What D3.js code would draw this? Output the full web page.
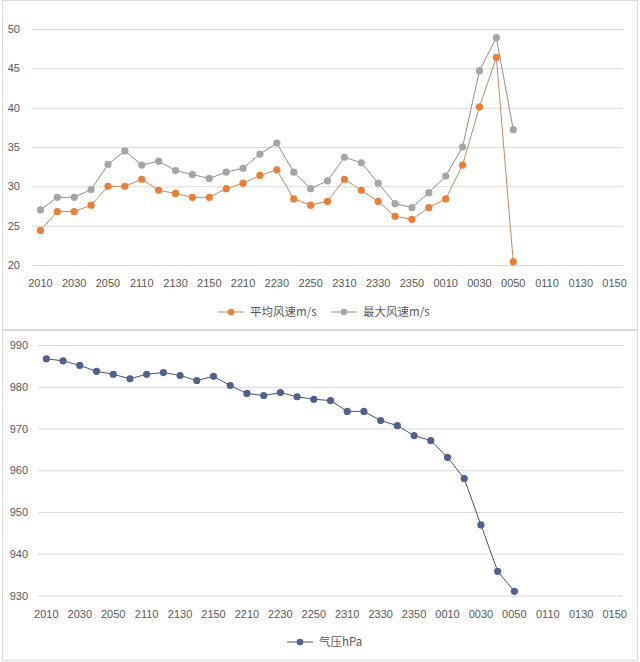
<!DOCTYPE html>
<html><head><meta charset="utf-8">
<script src="https://cdn.jsdelivr.net/npm/d3@7"></script>
<style>
html,body{margin:0;padding:0;background:#fff;}
svg{display:block;font-family:"Noto Sans CJK SC","Noto Sans",sans-serif;}
</style></head>
<body><svg id="c" width="640" height="662"></svg>
<script>
const times = ["2010","2020","2030","2040","2050","2100","2110","2120","2130","2140","2150","2200","2210","2220","2230","2240","2250","2300","2310","2320","2330","2340","2350","0000","0010","0020","0030","0040","0050","0100","0110","0120","0130","0140","0150"];
const avgWind = [24.4,26.8,26.8,27.6,30.0,30.0,30.9,29.5,29.1,28.6,28.6,29.7,30.4,31.4,32.1,28.4,27.6,28.1,30.9,29.5,28.1,26.2,25.8,27.3,28.4,32.7,40.1,46.4,20.4];
const maxWind = [27.0,28.6,28.6,29.6,32.8,34.5,32.7,33.2,32.0,31.5,31.0,31.8,32.3,34.1,35.5,31.8,29.7,30.7,33.7,33.0,30.4,27.8,27.3,29.2,31.3,35.0,44.7,48.9,37.2];
const pressure = [986.7,986.2,985.1,983.7,983.0,981.9,983.0,983.4,982.7,981.5,982.5,980.3,978.4,977.9,978.6,977.6,977.0,976.7,974.1,974.1,971.9,970.7,968.3,967.1,963.1,958.0,946.9,935.8,931.0];
const windTicks = [20,25,30,35,40,45,50];
const pressTicks = [930,940,950,960,970,980,990];
const windNames = ["平均风速m/s","最大风速m/s"];
const pressName = "气压hPa";

const svg = d3.select("#c");
const textCol = "#595959", gridCol = "#d9d9d9";

// panel borders
svg.append("rect").attr("x",2.5).attr("y",0.5).attr("width",635).attr("height",329).attr("fill","none").attr("stroke","#d9d9d9");
svg.append("rect").attr("x",2.5).attr("y",330.5).attr("width",635).attr("height",330).attr("fill","none").attr("stroke","#d9d9d9");

function panel(cfg){
  const g = svg.append("g");
  const x = d3.scaleBand().domain(times).range([cfg.x0, cfg.x1]);
  const y = d3.scaleLinear().domain(cfg.domain).range([cfg.yb, cfg.yt]);
  // grid
  const ya = d3.axisLeft(y).tickValues(cfg.ticks).tickSize(-(cfg.x1-cfg.x0)).tickPadding(cfg.pad);
  const gy = g.append("g").attr("transform",`translate(${cfg.x0},0)`).call(ya);
  gy.select(".domain").remove();
  gy.selectAll(".tick line").attr("stroke",gridCol);
  gy.selectAll(".tick text").attr("fill",textCol).style("font-size","11px");
  const xa = d3.axisBottom(x).tickValues(times.filter((d,i)=>i%2===0)).tickSize(0).tickPadding(cfg.xpad);
  const gx = g.append("g").attr("transform",`translate(0,${cfg.yb})`).call(xa);
  gx.select(".domain").remove();
  gx.selectAll(".tick text").attr("fill",textCol).style("font-size","11px");
  cfg.series.forEach(s=>{
    const pts = s.values.map((v,i)=>[x(times[i])+x.bandwidth()/2, y(v)]);
    g.append("path").attr("d",d3.line()(pts)).attr("fill","none").attr("stroke",s.line).attr("stroke-width",1);
    g.selectAll(null).data(pts).join("circle").attr("cx",d=>d[0]).attr("cy",d=>d[1]).attr("r",3.6).attr("fill",s.color);
  });
  // legend
  cfg.series.forEach(s=>{
    const lg = g.append("g").attr("transform",`translate(${s.lx},${cfg.ly})`);
    lg.append("line").attr("x1",-13).attr("x2",13).attr("stroke",s.line).attr("stroke-width",1);
    lg.append("circle").attr("r",3.3).attr("fill",s.color);
    lg.append("text").attr("x",19).attr("y",4).attr("fill",textCol).style("font-size","11.5px").text(s.name);
  });
}

panel({x0:32,x1:623,yb:265,yt:29,domain:[20,50],ticks:windTicks,pad:12,xpad:14,ly:312,
  series:[
    {name:windNames[0],values:avgWind,color:"#ED7D31",line:"#c98a5a",lx:231},
    {name:windNames[1],values:maxWind,color:"#A5A5A5",line:"#8f8f8f",lx:344}
  ]});
panel({x0:38,x1:623,yb:595.5,yt:345,domain:[930,990],ticks:pressTicks,pad:10,xpad:15,ly:642,
  series:[
    {name:pressName,values:pressure,color:"#4F6190",line:"#4a5470",lx:300}
  ]});
</script></body></html>
